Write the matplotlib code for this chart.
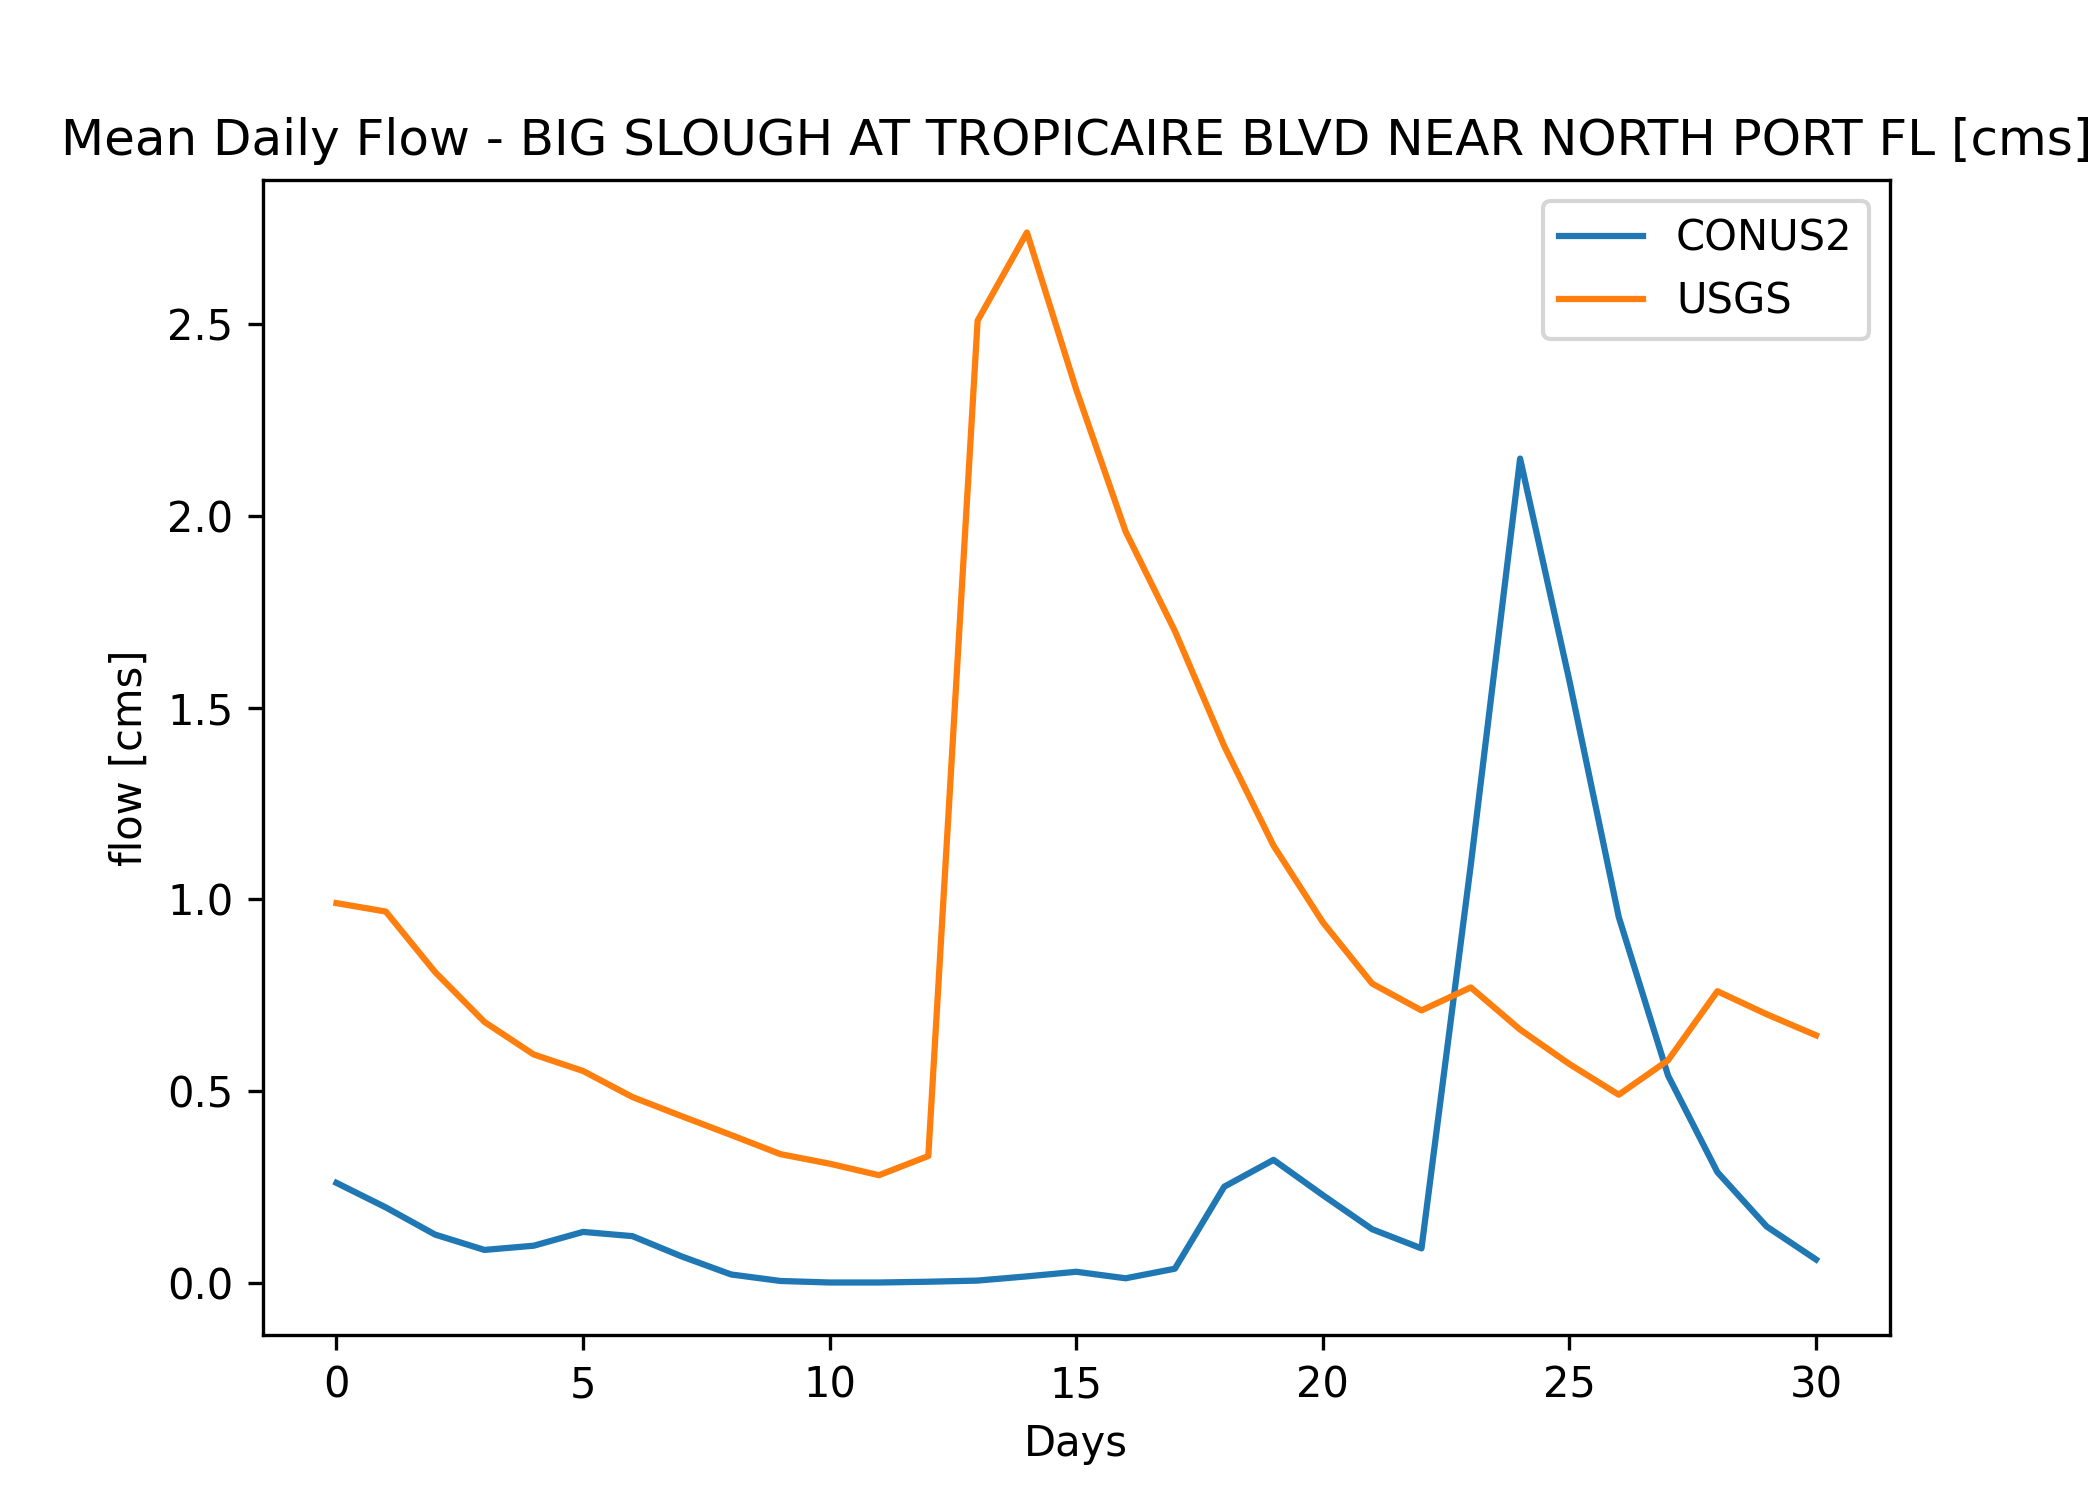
import matplotlib
matplotlib.use("Agg")
import matplotlib.pyplot as plt

days = list(range(31))
conus2 = [0.26, 0.196, 0.125, 0.085, 0.096, 0.132, 0.121, 0.068, 0.021, 0.004,
          0.0, 0.0, 0.002, 0.005, 0.016, 0.028, 0.011, 0.036, 0.25, 0.32,
          0.228, 0.139, 0.089, 1.09, 2.15, 1.57, 0.954, 0.54, 0.288, 0.146, 0.06]
usgs = [0.99, 0.968, 0.81, 0.68, 0.595, 0.552, 0.484, 0.434, 0.385, 0.335,
        0.31, 0.28, 0.33, 2.51, 2.74, 2.33, 1.96, 1.70, 1.40, 1.14,
        0.94, 0.78, 0.71, 0.77, 0.66, 0.57, 0.49, 0.58, 0.76, 0.70, 0.645]

fig, ax = plt.subplots(figsize=(7, 5), dpi=300)
ax.plot(days, conus2, label="CONUS2")
ax.plot(days, usgs, label="USGS")
ax.set_title("Mean Daily Flow - BIG SLOUGH AT TROPICAIRE BLVD NEAR NORTH PORT FL [cms]")
ax.set_xlabel("Days")
ax.set_ylabel("flow [cms]")
ax.legend()
fig.savefig("out.png")
